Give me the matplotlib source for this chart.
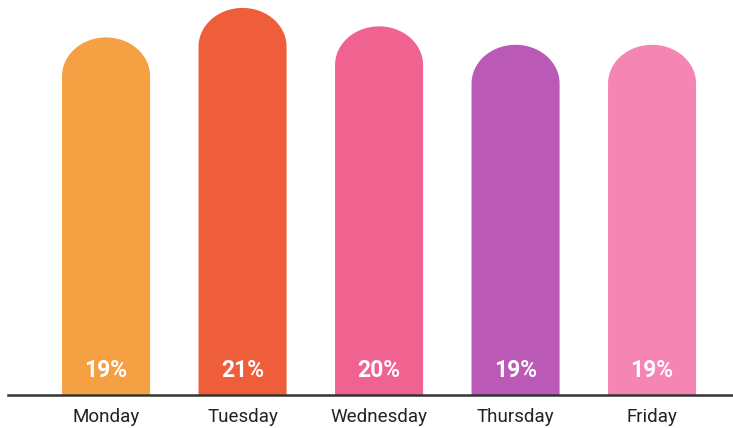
import numpy as np
import matplotlib
matplotlib.use("Agg")
import matplotlib.pyplot as plt
from matplotlib.patches import Polygon

# data
days = ["Monday", "Tuesday", "Wednesday", "Thursday", "Friday"]
shares = [19.4, 21.0, 20.0, 19.0, 19.0]
labels = ["19%", "21%", "20%", "19%", "19%"]
colors = ["#F5A042", "#EE5E3B", "#F06290", "#BA5AB6", "#F585B3"]

plt.rcParams['font.family'] = ['Roboto', 'DejaVu Sans']

fig = plt.figure(figsize=(7.33, 4.28), dpi=100)
ax = fig.add_axes([0, 1 - 395 / 428, 1, 395 / 428])

w = 0.645   # bar width
r = 2.1     # height of the round cap (data units)
t = np.linspace(0, np.pi, 60)
for i, v in enumerate(shares):
    # one outline: straight sides, half-ellipse top
    cap_x = i + (w / 2) * np.cos(t)
    cap_y = (v - r) + r * np.sin(t)
    xs = np.concatenate([[i + w / 2], cap_x, [i - w / 2]])
    ys = np.concatenate([[0], cap_y, [0]])
    ax.add_patch(Polygon(np.column_stack([xs, ys]), closed=True,
                         facecolor=colors[i], edgecolor='none'))
    ax.text(i, 1.35, labels[i], ha='center', va='center', color='white',
            fontsize=16.5, fontweight='bold')

ax.set_xlim(-0.777, 4.593)
ax.set_ylim(0, 21.43)
ax.set_xticks(range(len(days)))
ax.set_xticklabels(days, fontsize=13.5, color='#222222')
ax.tick_params(axis='x', length=0, pad=9)
ax.set_yticks([])
for s in ['top', 'left', 'right']:
    ax.spines[s].set_visible(False)
ax.spines['bottom'].set_color('#333333')
ax.spines['bottom'].set_linewidth(1.8)
ax.spines['bottom'].set_bounds(-0.72, 4.593)

fig.savefig("out.png", dpi=100)
